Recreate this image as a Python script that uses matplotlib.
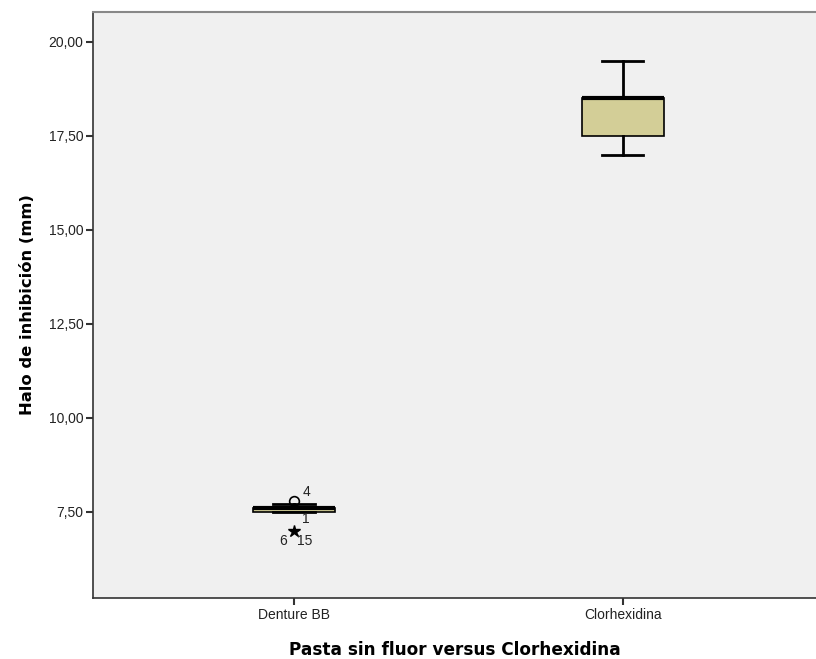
import matplotlib.pyplot as plt
from matplotlib.ticker import FuncFormatter

# box statistics
groups = ['Denture BB', 'Clorhexidina']
q1 = [7.5, 17.5]
med = [7.6, 18.5]
q3 = [7.6, 18.5]
whis_lo = [7.5, 17.0]
whis_hi = [7.7, 19.5]
outliers = [[7.8], []]   # circles
extremes = [[7.0], []]   # stars

fill = '#d3ce97'
bg = '#f0f0f0'

fig = plt.figure(figsize=(8.16, 6.59), dpi=100)
ax = fig.add_axes([0.114, 0.0926, 0.886, 0.8894])
ax.set_facecolor(bg)

stats = []
for i, g in enumerate(groups):
    stats.append({'label': g, 'q1': q1[i], 'med': med[i], 'q3': q3[i],
                  'whislo': whis_lo[i], 'whishi': whis_hi[i], 'fliers': []})

pos = [1, 2]
ax.bxp(stats, positions=pos, widths=0.25, patch_artist=True, showfliers=False,
       boxprops=dict(facecolor=fill, edgecolor='black', linewidth=1.2),
       medianprops=dict(color='black', linewidth=3),
       whiskerprops=dict(color='black', linewidth=2),
       capprops=dict(color='black', linewidth=2),
       capwidths=0.125)

for i in range(len(groups)):
    for v in outliers[i]:
        ax.plot(pos[i], v, marker='o', ms=7, mfc='none', mec='black', mew=1.2)
    for v in extremes[i]:
        ax.plot(pos[i], v, marker='*', ms=9, color='black')

# case labels
lab_font = dict(fontsize=10, family='Liberation Sans', color='#222222')
ax.text(1.025, 7.85, '4', ha='left', va='bottom', **lab_font)
ax.text(1.025, 7.3, '1', ha='left', va='center', **lab_font)
ax.text(0.98, 6.72, '6', ha='right', va='center', **lab_font)
ax.text(1.01, 6.72, '15', ha='left', va='center', **lab_font)

ax.set_xlim(0.389, 2.587)
ax.set_ylim(5.21, 20.8)
ax.set_yticks([7.5, 10, 12.5, 15, 17.5, 20])
ax.yaxis.set_major_formatter(FuncFormatter(lambda v, p: f'{v:.2f}'.replace('.', ',')))
ax.set_xticks(pos)
ax.set_xticklabels(groups)

for lbl in ax.get_xticklabels() + ax.get_yticklabels():
    lbl.set_family('Liberation Sans')
    lbl.set_fontsize(10)
    lbl.set_color('#222222')
ax.tick_params(direction='out', length=5, width=1.5, color='#333333', pad=2)

ax.spines['right'].set_visible(False)
ax.spines['top'].set_color('#888888')
ax.spines['top'].set_linewidth(1.5)
ax.spines['left'].set_color('#333333')
ax.spines['bottom'].set_color('#333333')
ax.spines['left'].set_linewidth(1.2)
ax.spines['bottom'].set_linewidth(1.2)

ax.set_xlabel('Pasta sin fluor versus Clorhexidina', fontsize=12.2, fontweight='bold', labelpad=14)
ax.set_ylabel('Halo de inhibición (mm)', fontsize=11.8, fontweight='bold', labelpad=10)

fig.savefig('out.png', dpi=100)
